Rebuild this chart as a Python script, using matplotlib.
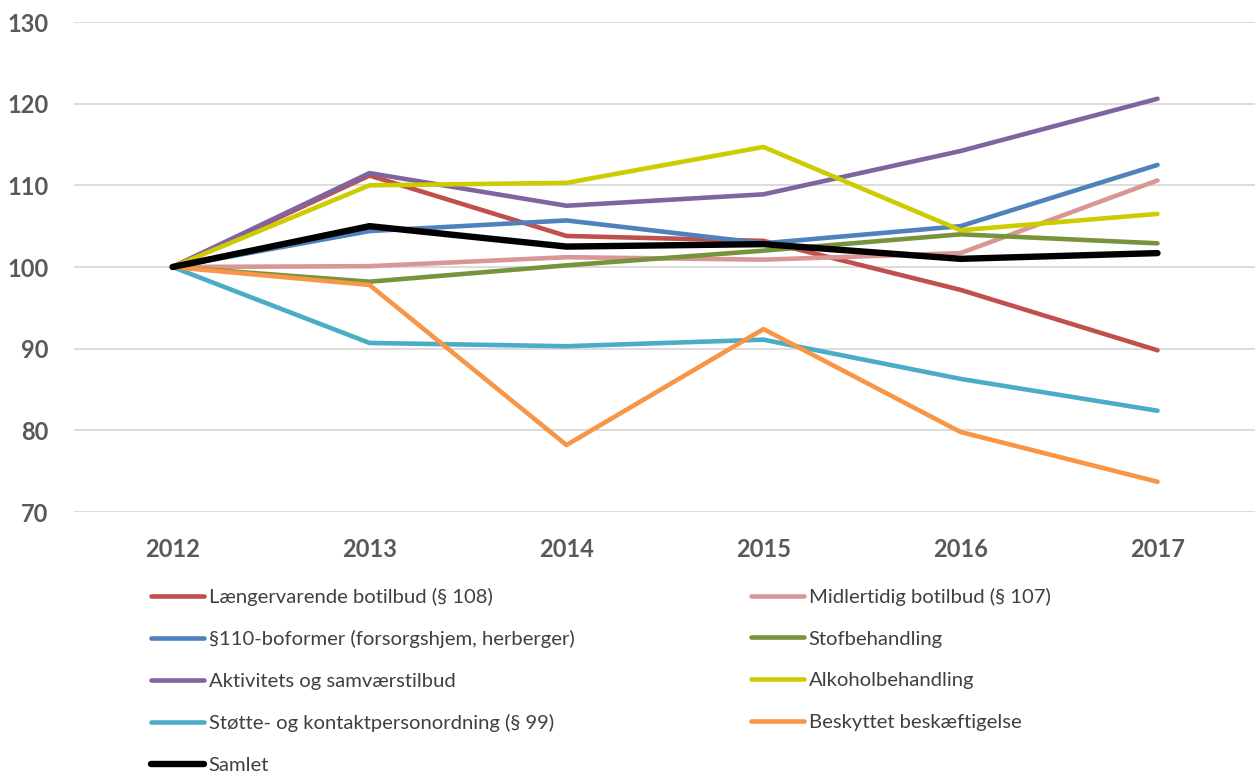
import matplotlib
matplotlib.use("Agg")
import matplotlib.pyplot as plt

years = ["2012", "2013", "2014", "2015", "2016", "2017"]

laengervarende = [100, 111.2, 103.8, 103.2, 97.2, 89.8]
midlertidig = [100, 100.1, 101.2, 100.9, 101.7, 110.6]
boformer110 = [100, 104.4, 105.7, 102.9, 105.0, 112.5]
stofbehandling = [100, 98.2, 100.2, 102.0, 104.0, 102.9]
aktivitets = [100, 111.5, 107.5, 108.9, 114.2, 120.6]
alkohol = [100, 110.0, 110.3, 114.7, 104.5, 106.5]
stoette = [100, 90.7, 90.3, 91.1, 86.3, 82.4]
beskyttet = [100, 97.8, 78.2, 92.4, 79.8, 73.7]
samlet = [100, 105.0, 102.5, 102.8, 101.0, 101.7]

labels = [
    "Længervarende botilbud (§ 108)",
    "Midlertidig botilbud (§ 107)",
    "§110-boformer (forsorgshjem, herberger)",
    "Stofbehandling",
    "Aktivitets og samværstilbud",
    "Alkoholbehandling",
    "Støtte- og kontaktpersonordning (§ 99)",
    "Beskyttet beskæftigelse",
    "Samlet",
]
series = [laengervarende, midlertidig, boformer110, stofbehandling, aktivitets,
          alkohol, stoette, beskyttet, samlet]
colors = ["#C0504D", "#DA9694", "#4F81BD", "#77933C", "#8064A2",
          "#CCCC00", "#4BACC6", "#F79646", "#000000"]
yticks = [70, 80, 90, 100, 110, 120, 130]

plt.rcParams['font.family'] = ['Lato', 'DejaVu Sans']

fig = plt.figure(figsize=(12.55, 7.72), dpi=100)
ax = fig.add_axes([74 / 1255, 1 - 512 / 772, (1256 - 74) / 1255, (512 - 22) / 772])

x = list(range(len(years)))
handles = {}
for lab, s, c in zip(labels, series, colors):
    lw = 4.6 if lab == "Samlet" else 3.3
    h, = ax.plot(x, s, color=c, lw=lw, solid_capstyle='round', solid_joinstyle='round',
                 zorder=3 if lab != "Samlet" else 4)
    handles[lab] = h

ax.set_xlim(-0.5, len(years) - 0.5)
ax.set_ylim(70, 130)
ax.set_yticks(yticks)
ax.set_xticks(x)
ax.set_xticklabels(years)
ax.grid(axis='y', color='#D9D9D9', lw=1.3, zorder=0)
ax.grid(axis='x', visible=False)
for sp in ax.spines.values():
    sp.set_visible(False)
ax.tick_params(length=0, labelsize=17, labelcolor='#595959')
ax.tick_params(axis='x', pad=19)
ax.tick_params(axis='y', pad=18.5)
for t in ax.get_xticklabels() + ax.get_yticklabels():
    t.set_fontweight('bold')

left_items = [labels[i] for i in (0, 2, 4, 6, 8)]
right_items = [labels[i] for i in (1, 3, 5, 7)]

common = dict(frameon=False, fontsize=14.6, handlelength=2.6, handletextpad=0.25,
              labelspacing=1.2, borderaxespad=0, borderpad=0, labelcolor='#404040')
leg1 = fig.legend([handles[l] for l in left_items], left_items, loc='upper left',
                  bbox_to_anchor=(151 / 1255, 1 - 588 / 772), **common)
leg2 = fig.legend([handles[l] for l in right_items], right_items, loc='upper left',
                  bbox_to_anchor=(751 / 1255, 1 - 588 / 772), **common)

fig.savefig("out.png", dpi=100)
